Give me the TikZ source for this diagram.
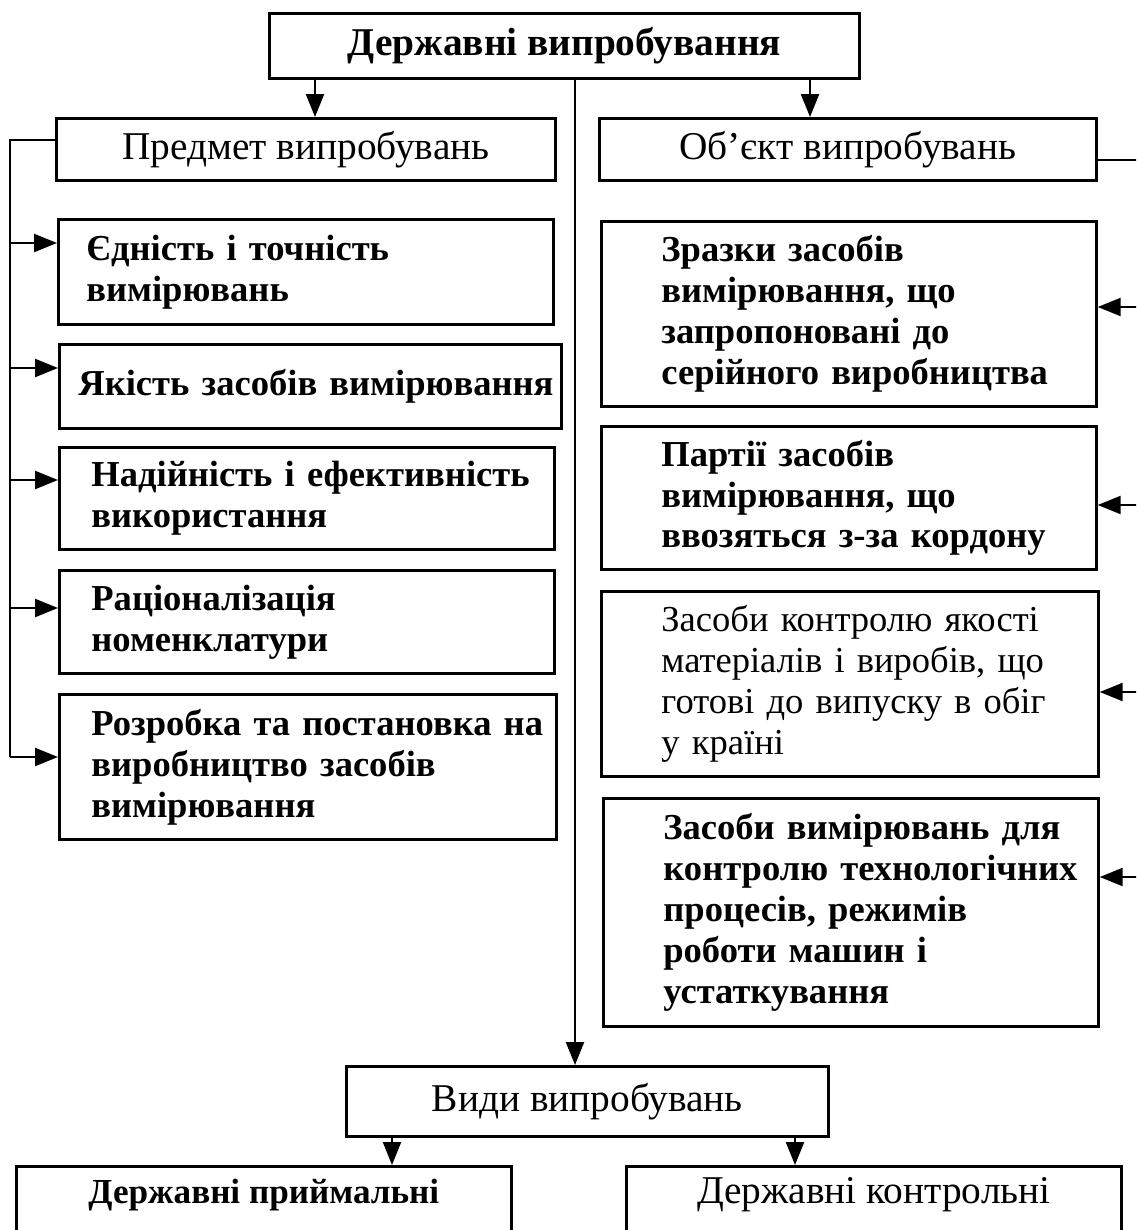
\documentclass[tikz,border=0pt]{standalone}
\usepackage{fontspec}
\setmainfont{Liberation Serif}
\usepackage{tikz}
\usetikzlibrary{arrows.meta,calc,positioning}
\newcommand{\itemfont}{\fontsize{20.8}{23.3}\selectfont}
\newcommand{\headfont}{\fontsize{22.4}{25}\selectfont}
\newcommand{\lowfont}{\fontsize{20}{23}\selectfont}

\tikzset{
  box/.style={draw, line width=1.6pt, inner xsep=0pt, inner ysep=4pt, anchor=north west, font=\itemfont},
  head/.style={box, align=center, font=\headfont},
  item/.style 2 args={box, text width=#1, align=left, execute at begin node={\leftskip=#2}},
  con/.style={line width=1.3pt},
  arr/.style={con, -{Triangle[length=0.46cm,width=0.36cm]}}
}

\begin{document}
\begin{tikzpicture}[x=0.02cm, y=-0.02cm]
          \useasboundingbox (0,0) rectangle (1136,1230);
          \fill[white] (0,0) rectangle (1136,1230);
          \clip (0,0) rectangle (1136,1230);

          \node[head, minimum width=11.8cm, minimum height=1.3cm] (title) at (268,12) {\bfseries Державні випробування};
          \node[head, minimum width=9.98cm, minimum height=1.24cm] (subj) at (55,117) {Предмет випробувань};
          \node[head, minimum width=9.94cm, minimum height=1.24cm] (obj) at (598,117) {Об’єкт випробувань};

          \node[item={9.9cm}{0.56cm}, minimum height=2.1cm] (s1) at (57,218) {\bfseries Єдність і точність\\ вимірювань};
          \node[item={10.04cm}{0.38cm}, minimum height=1.68cm] (s2) at (58,343) {\bfseries Якість засобів вимірювання};
          \node[item={9.9cm}{0.64cm}, minimum height=2.04cm] (s3) at (58,446) {\bfseries Надійність і ефективність\\ використання};
          \node[item={9.9cm}{0.64cm}, minimum height=2.06cm] (s4) at (58,569) {\bfseries Раціоналізація\\ номенклатури};
          \node[item={9.94cm}{0.64cm}, minimum height=2.9cm] (s5) at (58,693) {\bfseries Розробка та постановка на\\ виробництво засобів\\ вимірювання};

          \node[item={9.9cm}{1.2cm}, minimum height=3.7cm] (o1) at (600,220) {\bfseries Зразки засобів\\ вимірювання, що\\ запропоновані до\\ серійного виробництва};
          \node[item={9.9cm}{1.2cm}, minimum height=2.86cm] (o2) at (600,425) {\bfseries Партії засобів\\ вимірювання, що\\ ввозяться з-за кордону};
          \node[item={9.94cm}{1.2cm}, minimum height=3.7cm] (o3) at (600,590) {Засоби контролю якості\\ матеріалів і виробів, що\\ готові до випуску в обіг\\ у країні};
          \node[item={9.9cm}{1.2cm}, minimum height=4.56cm] (o4) at (602,797) {\bfseries Засоби вимірювань для\\ контролю технологічних\\ процесів, режимів\\ роботи машин і\\ устаткування};

          \node[head, minimum width=9.64cm, minimum height=1.4cm] (vidy) at (345,1065) {Види випробувань};
          \node[head, minimum width=9.9cm, inner ysep=7pt, text depth=2cm, font=\lowfont] (acc) at (15,1165) {\bfseries Державні приймальні};
          \node[head, minimum width=9.9cm, inner ysep=6pt, text depth=2cm] (ctl) at (625,1165) {Державні контрольні};

          \coordinate (a1) at (315,0);
          \coordinate (a2) at (810,0);
          \coordinate (ax) at (575,0);
          \coordinate (lb) at (10,0);
          \coordinate (rb) at (1140,0);
          \coordinate (b1) at (392,0);
          \coordinate (b2) at (795,0);

          \draw[arr] (title.south -| a1) -- (subj.north -| a1);
          \draw[arr] (title.south -| a2) -- (obj.north -| a2);
          \draw[arr] (title.south -| ax) -- (vidy.north -| ax);

          \coordinate (lt) at ($(subj.north west)+(0,23)$);
          \coordinate (rt) at ($(obj.north east)+(0,43)$);
          \coordinate (le) at ($(s5.north west)+(0,64)$);
          \draw[con] (lt) -- (lt -| lb) -- (le -| lb);
          \draw[con] (rt) -- (rt -| rb) -- (rb |- o4.south);

          \foreach \n/\d in {s1/25, s2/25, s3/34, s4/39, s5/64} {
            \coordinate (t) at ($(\n.north west)+(0,\d)$);
            \draw[arr] (t -| lb) -- (t);
          }
          \foreach \n/\d in {o1/87, o2/80, o3/102, o4/80} {
            \coordinate (t) at ($(\n.north east)+(0,\d)$);
            \draw[arr] (t -| rb) -- (t);
          }

          \draw[arr] (vidy.south -| b1) -- (acc.north -| b1);
          \draw[arr] (vidy.south -| b2) -- (ctl.north -| b2);
        \end{tikzpicture}
\end{document}
